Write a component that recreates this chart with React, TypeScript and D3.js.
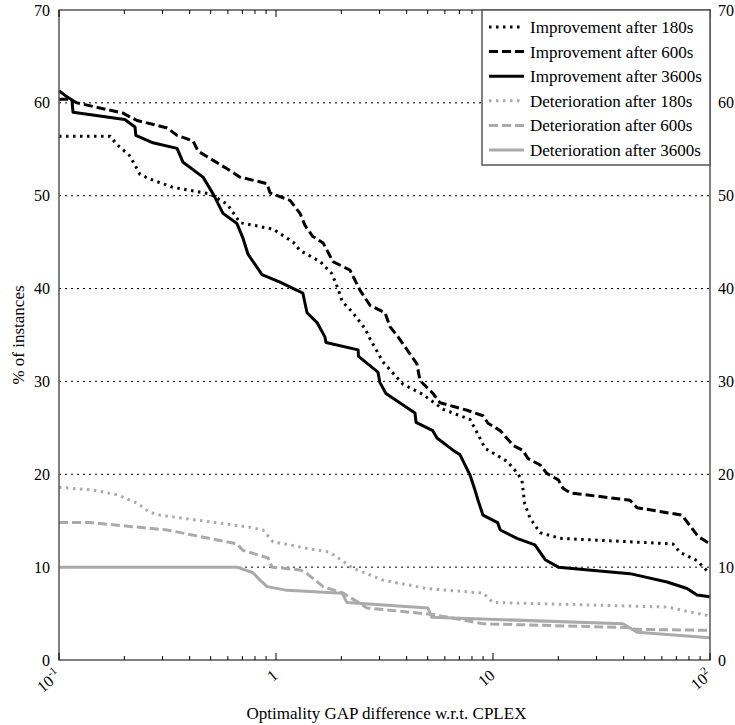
import React from "react";
import * as d3 from "d3";

type Pt = [number, number];

const imp180: Pt[] = [
  [0.1, 56.4], [0.172, 56.4], [0.185, 55.5], [0.212, 54.3], [0.236, 52.3], [0.262, 51.8],
  [0.335, 50.9], [0.496, 50.2], [0.595, 49.1], [0.683, 47.1], [0.969, 46.4], [1.2, 45.0],
  [1.29, 44.1], [1.6, 42.9], [1.81, 41.6], [1.93, 40.0], [2.02, 38.6], [2.24, 37.5],
  [2.57, 35.7], [2.71, 34.6], [3.11, 32.1], [3.85, 29.7], [4.75, 28.6], [5.89, 27.0],
  [7.84, 25.9], [8.53, 24.3], [9.19, 22.8], [11.6, 21.4], [13.0, 20.1], [13.6, 19.3],
  [14.0, 16.8], [14.8, 15.3], [16.5, 13.7], [20.4, 13.1], [67.5, 12.5], [72.7, 11.6],
  [87.1, 10.7], [96.9, 9.6], [100, 9.4],
];

const imp600: Pt[] = [
  [0.1, 60.4], [0.1124, 60.4], [0.121, 60.0], [0.197, 58.9], [0.229, 58.1], [0.315, 57.3],
  [0.35, 56.5], [0.415, 55.9], [0.437, 54.8], [0.595, 52.9], [0.683, 52.0], [0.91, 51.3],
  [0.938, 50.3], [1.16, 49.5], [1.29, 48.1], [1.36, 46.8], [1.48, 45.6], [1.65, 44.9],
  [1.83, 42.9], [2.19, 42.0], [2.44, 39.8], [2.71, 38.2], [3.18, 37.4], [3.35, 35.9],
  [3.65, 34.8], [4.46, 31.9], [4.61, 30.1], [5.29, 28.7], [5.7, 27.7], [7.59, 26.9],
  [9.0, 26.3], [9.48, 25.5], [10.8, 24.7], [12.4, 23.1], [13.7, 22.6], [14.5, 21.7],
  [16.5, 21.0], [17.7, 20.1], [20.0, 19.4], [21.0, 18.5], [22.7, 18.0], [42.8, 17.2],
  [46.1, 16.4], [74.3, 15.6], [88.1, 13.3], [96.9, 12.7], [100, 12.6],
];

const imp3600: Pt[] = [
  [0.1, 61.3], [0.1066, 60.8], [0.1148, 60.3], [0.116, 59.0], [0.201, 58.2], [0.224, 57.4],
  [0.226, 56.5], [0.271, 55.7], [0.35, 55.1], [0.373, 53.6], [0.461, 52.0], [0.513, 50.2],
  [0.57, 48.1], [0.661, 47.0], [0.705, 45.4], [0.743, 43.7], [0.862, 41.5], [1.043, 40.7],
  [1.33, 39.5], [1.39, 37.4], [1.55, 36.3], [1.68, 34.8], [1.7, 34.2], [2.39, 33.4],
  [2.4, 32.7], [2.95, 31.0], [3.01, 29.9], [3.21, 28.7], [4.37, 26.6], [4.42, 25.6],
  [5.28, 24.7], [5.52, 23.9], [6.54, 22.6], [7.05, 22.1], [7.84, 19.9], [8.26, 18.3],
  [8.53, 17.2], [8.99, 15.6], [10.5, 14.8], [10.8, 14.0], [12.9, 13.1], [15.6, 12.4],
  [17.4, 10.8], [20.0, 10.0], [42.8, 9.3], [63.4, 8.4], [78.4, 7.7], [87.1, 7.0], [100, 6.8],
];

const det180: Pt[] = [
  [0.1, 18.6], [0.1435, 18.3], [0.185, 17.8], [0.229, 16.9], [0.262, 15.9], [0.292, 15.6],
  [0.759, 14.3], [0.871, 14.0], [0.969, 12.7], [1.16, 12.4], [1.33, 12.1], [1.77, 11.6],
  [2.26, 9.9], [3.11, 8.6], [4.96, 7.7], [9.0, 7.2], [10.0, 6.2], [63.4, 5.7], [96.9, 4.8],
  [100, 4.6],
];

const det600: Pt[] = [
  [0.1, 14.8], [0.139, 14.8], [0.315, 14.0], [0.447, 13.3], [0.661, 12.5], [0.705, 11.8],
  [0.918, 11.0], [0.959, 10.0], [1.29, 9.7], [1.39, 9.3], [1.65, 7.9], [2.04, 7.2],
  [2.63, 5.6], [5.29, 4.9], [9.0, 3.9], [41.5, 3.5], [46.1, 3.3], [100, 3.2],
];

const det3600: Pt[] = [
  [0.1, 10.0], [0.661, 10.0], [0.783, 9.4], [0.844, 8.6], [0.91, 7.9], [1.124, 7.5],
  [2.02, 7.2], [2.12, 6.2], [5.01, 5.6], [5.23, 4.6], [39.7, 3.9], [46.1, 3.0], [100, 2.4],
];

const seriesNames = [
  "Improvement after 180s",
  "Improvement after 600s",
  "Improvement after 3600s",
  "Deterioration after 180s",
  "Deterioration after 600s",
  "Deterioration after 3600s",
];
const seriesData = [imp180, imp600, imp3600, det180, det600, det3600];
const seriesColor = ["#000", "#000", "#000", "#aaa", "#aaa", "#aaa"];
const seriesDash = ["2.5,4.5", "9,4", "none", "2.5,4.5", "9,4", "none"];

const yTicks = [0, 10, 20, 30, 40, 50, 60, 70];
const yGrid = [10, 20, 30, 40, 50, 60];
const xMajor = [0.1, 1, 10, 100];

const FONT = '"Liberation Serif", "Times New Roman", "DejaVu Serif", serif';

export default function App() {
  const left = 59, right = 710, top = 10, bottom = 660;
  const x = d3.scaleLog().domain([0.1, 100]).range([left, right]);
  const y = d3.scaleLinear().domain([0, 70]).range([bottom, top]);
  const line = d3.line<Pt>().x((d) => x(d[0])).y((d) => y(d[1]));

  const minor: number[] = [];
  for (const base of [0.1, 1, 10]) for (let k = 2; k <= 9; k++) minor.push(base * k);

  const frame = "#555";
  const legX = 482, legY = 10, legW = right - 482, legH = 155;
  const ts = { fontFamily: FONT };

  return (
    <svg width={735} height={725} style={{ position: "absolute", left: 0, top: 0, background: "#fff", fontFamily: FONT }}>
      {yGrid.map((v) => (
        <line key={v} x1={left} x2={right} y1={y(v)} y2={y(v)} stroke="#000" strokeWidth={1} strokeDasharray="2,4" />
      ))}
      {seriesData.map((d, i) => (
        <path key={i} d={line(d) || ""} fill="none" stroke={seriesColor[i]} strokeWidth={3}
          strokeDasharray={seriesDash[i]} strokeLinejoin="round" />
      ))}
      <rect x={left} y={top} width={right - left} height={bottom - top} fill="none" stroke={frame} strokeWidth={1.5} />
      {minor.map((v) => (
        <g key={v}>
          <line x1={x(v)} x2={x(v)} y1={bottom} y2={bottom - 4} stroke="#000" strokeWidth={1} />
          <line x1={x(v)} x2={x(v)} y1={top} y2={top + 4} stroke="#000" strokeWidth={1} />
        </g>
      ))}
      {xMajor.map((v) => (
        <g key={v}>
          <line x1={x(v)} x2={x(v)} y1={bottom} y2={bottom - 7} stroke="#000" strokeWidth={1} />
          <line x1={x(v)} x2={x(v)} y1={top} y2={top + 7} stroke="#000" strokeWidth={1} />
        </g>
      ))}
      {yTicks.map((v) => (
        <g key={v}>
          <text style={ts} x={left - 9} y={y(v)} dy="0.35em" textAnchor="end" fontSize={16}>{v}</text>
          <text style={ts} x={right + 8} y={y(v)} dy="0.35em" textAnchor="start" fontSize={16}>{v}</text>
        </g>
      ))}
      {xMajor.map((v) => {
        const e = Math.round(Math.log10(v));
        const tx = x(v) + 3, ty = bottom + 17;
        return (
          <text style={ts} key={v} transform={`translate(${tx},${ty}) rotate(-40)`} textAnchor="end" fontSize={16}>
            {e === 0 ? "1" : e === 1 ? "10" : (
              <>
                10<tspan dy={-7} fontSize={11}>{String(e)}</tspan>
              </>
            )}
          </text>
        );
      })}
      <text style={ts} x={(left + right) / 2 + 2} y={719} textAnchor="middle" fontSize={17}>Optimality GAP difference w.r.t. CPLEX</text>
      <text style={ts} transform={`translate(24,${(top + bottom) / 2}) rotate(-90)`} textAnchor="middle" fontSize={17}>% of instances</text>
      <rect x={legX} y={legY} width={legW} height={legH} fill="#fff" stroke={frame} strokeWidth={1.5} />
      {seriesNames.map((name, i) => {
        const ly = legY + 17 + i * 24.6;
        return (
          <g key={name}>
            <line x1={legX + 7} x2={legX + 42} y1={ly} y2={ly} stroke={seriesColor[i]} strokeWidth={3} strokeDasharray={seriesDash[i]} />
            <text style={ts} x={legX + 48} y={ly} dy="0.35em" fontSize={17}>{name}</text>
          </g>
        );
      })}
    </svg>
  );
}
